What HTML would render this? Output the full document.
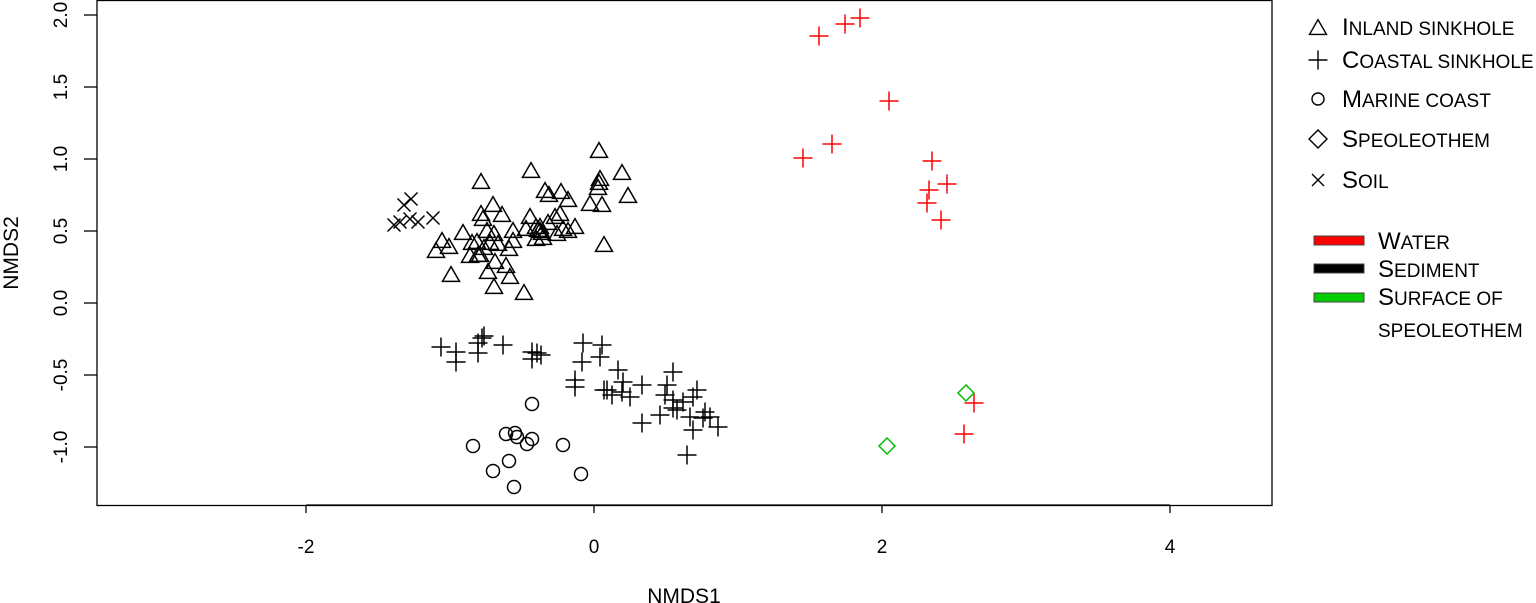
<!DOCTYPE html>
<html><head><meta charset="utf-8"><style>
html,body{margin:0;padding:0;background:#fff;}
svg{display:block;font-family:"Liberation Sans",sans-serif;}
.s{font-size:19px;}
</style></head><body>
<svg id="s" width="1536" height="603" viewBox="0 0 1536 603" xmlns="http://www.w3.org/2000/svg">
<rect x="97" y="0.5" width="1175" height="505" fill="none" stroke="#000" stroke-width="1.3"/>
<g stroke="#000" stroke-width="1.3">
<line x1="306" y1="505" x2="306" y2="513"/><line x1="594" y1="505" x2="594" y2="513"/><line x1="882" y1="505" x2="882" y2="513"/><line x1="1170" y1="505" x2="1170" y2="513"/>
<line x1="306" y1="505" x2="1170" y2="505"/>
<line x1="84" y1="15" x2="97" y2="15"/><line x1="84" y1="87" x2="97" y2="87"/><line x1="84" y1="159" x2="97" y2="159"/><line x1="84" y1="231" x2="97" y2="231"/><line x1="84" y1="303" x2="97" y2="303"/><line x1="84" y1="375" x2="97" y2="375"/><line x1="84" y1="447" x2="97" y2="447"/>
</g>
<g font-size="19" text-anchor="middle" fill="#000">
<text x="306" y="553">-2</text><text x="594" y="553">0</text><text x="882" y="553">2</text><text x="1170" y="553">4</text>
<text transform="translate(67,15) rotate(-90)">2.0</text>
<text transform="translate(67,87) rotate(-90)">1.5</text>
<text transform="translate(67,159) rotate(-90)">1.0</text>
<text transform="translate(67,231) rotate(-90)">0.5</text>
<text transform="translate(67,303) rotate(-90)">0.0</text>
<text transform="translate(67,375) rotate(-90)">-0.5</text>
<text transform="translate(67,447) rotate(-90)">-1.0</text>
<text x="684" y="603" font-size="21">NMDS1</text>
<text transform="translate(18,253) rotate(-90)" font-size="21">NMDS2</text>
</g>
<g id="pts" fill="none" stroke-width="1.5"></g>
<g font-size="24" fill="#000">
<text x="1342" y="35">I<tspan class="s">NLAND SINKHOLE</tspan></text>
<text x="1342" y="68">C<tspan class="s">OASTAL SINKHOLE</tspan></text>
<text x="1342" y="107">M<tspan class="s">ARINE COAST</tspan></text>
<text x="1342" y="147">S<tspan class="s">PEOLEOTHEM</tspan></text>
<text x="1342" y="188">S<tspan class="s">OIL</tspan></text>
<text x="1378" y="249">W<tspan class="s">ATER</tspan></text>
<text x="1378" y="277">S<tspan class="s">EDIMENT</tspan></text>
<text x="1378" y="305">S<tspan class="s">URFACE OF</tspan></text>
<text x="1378" y="337" class="s">SPEOLEOTHEM</text>
</g>
<g stroke="#444" stroke-width="1">
<rect x="1314" y="236" width="50" height="9" fill="#f00"/>
<rect x="1314" y="264" width="50" height="9" fill="#000"/>
<rect x="1314" y="293" width="50" height="9" fill="#0c0"/>
</g>
<g id="leg" fill="none" stroke="#000" stroke-width="1.4"></g>
</svg>
<script>
var NS="http://www.w3.org/2000/svg";
function el(g,t,a){var e=document.createElementNS(NS,t);for(var k in a)e.setAttribute(k,a[k]);g.appendChild(e);}
var g=document.getElementById('pts');
function tri(g,x,y,s,c){var h=s*0.87;el(g,'polygon',{points:(x-s/2)+','+(y+h/2)+' '+(x+s/2)+','+(y+h/2)+' '+x+','+(y-h/2),stroke:c});}
function plus(g,x,y,s,c){el(g,'path',{d:'M'+(x-s/2)+' '+y+'H'+(x+s/2)+'M'+x+' '+(y-s/2)+'V'+(y+s/2),stroke:c});}
function cross(g,x,y,s,c){var d=s/2;el(g,'path',{d:'M'+(x-d)+' '+(y-d)+'L'+(x+d)+' '+(y+d)+'M'+(x-d)+' '+(y+d)+'L'+(x+d)+' '+(y-d),stroke:c});}
function circ(g,x,y,r,c){el(g,'circle',{cx:x,cy:y,r:r,stroke:c});}
function dia(g,x,y,s,c){el(g,'polygon',{points:x+','+(y-s)+' '+(x+s)+','+y+' '+x+','+(y+s)+' '+(x-s)+','+y,stroke:c});}
var T=[[599,150],[622,172],[628,195],[604,244],[598,187],[599,182],[600,178],[531,170],[493,204],[481,181],[502,214],[487,230],[442,240],[436,250],[451,274],[463,232],[477,241],[488,271],[494,286],[498,243],[509,248],[506,265],[510,276],[524,292],[483,218],[494,233],[513,230],[543,237],[536,226],[540,230],[536,238],[549,194],[545,190],[561,191],[568,199],[560,213],[526,228],[557,233],[575,226],[563,228],[590,203],[602,204],[495,261],[472,242],[449,246],[480,254],[548,222],[530,216],[555,216],[470,255],[513,240],[478,254],[481,213],[540,226],[490,242],[484,247],[568,230],[538,229],[542,232]];
T.forEach(function(p){tri(g,p[0],p[1],17,'#000');});
[[394,225],[404,205],[411,199],[410,219],[418,222],[433,218],[400,222]].forEach(function(p){cross(g,p[0],p[1],13,'#000');});
var P=[[441,347],[456,352],[456,362],[482,338],[478,343],[478,353],[503,345],[532,352],[537,353],[532,359],[583,343],[602,345],[582,362],[600,357],[575,380],[575,387],[618,370],[623,382],[607,390],[612,395],[630,397],[622,392],[642,385],[673,372],[667,385],[665,395],[673,400],[683,402],[677,410],[697,390],[690,417],[660,415],[642,423],[705,412],[703,418],[710,417],[718,427],[693,430],[687,455],[693,397],[673,408],[484,336],[541,355],[604,390]];
P.forEach(function(p){plus(g,p[0],p[1],19,'#000');});
[[532,404],[506,434],[515,433],[517,437],[532,439],[527,444],[473,446],[563,445],[509,461],[493,471],[581,474],[514,487]].forEach(function(p){circ(g,p[0],p[1],6.5,'#000');});
[[819,36],[845,24],[860,18],[889,101],[803,158],[832,144],[932,161],[929,190],[947,184],[927,203],[941,220],[974,403],[964,434]].forEach(function(p){plus(g,p[0],p[1],19,'#f00');});
[[966,393],[887,446]].forEach(function(p){dia(g,p[0],p[1],8,'#0b0');});
var L=document.getElementById('leg');
tri(L,1318,27,17,'#000');plus(L,1318,60,19,'#000');circ(L,1318,99,6,'#000');dia(L,1318,139,9,'#000');cross(L,1318,180,12,'#000');
</script>
</body></html>
